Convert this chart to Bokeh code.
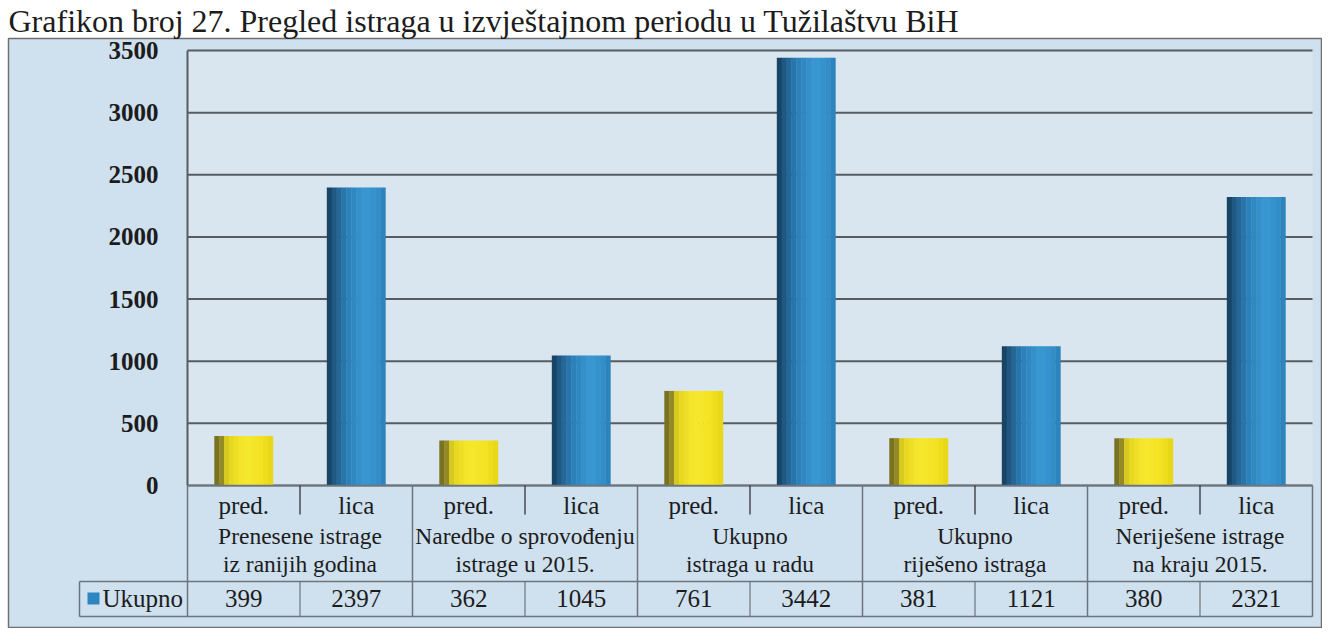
import numpy as np
from bokeh.plotting import figure
from bokeh.models import Range1d, LinearAxis, FixedTicker
from bokeh.core.properties import value
from bokeh.embed import file_html
from bokeh.resources import INLINE

# ---------------- data ----------------
title_text = "Grafikon broj 27. Pregled istraga u izvještajnom periodu u Tužilaštvu BiH"
groups = [
    "Prenesene istrage\niz ranijih godina",
    "Naredbe o sprovođenju\nistrage u 2015.",
    "Ukupno\nistraga u radu",
    "Ukupno\nriješeno istraga",
    "Neriješene istrage\nna kraju 2015.",
]
sub_labels = ["pred.", "lica"]
pred_values = [399, 362, 761, 381, 380]
lica_values = [2397, 1045, 3442, 1121, 2321]
series_name = "Ukupno"
y_ticks = [0, 500, 1000, 1500, 2000, 2500, 3000, 3500]

# ---------------- layout (canvas pixels) ----------------
W, H = 1322, 628
BL, BR, BT, BB = 8, 1, 38, 1          # borders around the chart frame
FX0, FX1 = float(BL), float(W - BR)   # chart frame left / right
FY0, FY1 = float(BT), float(H - BB)   # chart frame top / bottom
PX0, PX1 = 187.0, 1312.0              # plot area left / right
PY_TOP, PY_ZERO = 50.0, 485.0         # y of top tick / zero

n_groups = len(groups)
n_slots = n_groups * len(sub_labels)
xu = (PX1 - PX0) / n_slots
yu = y_ticks[-1] / (PY_ZERO - PY_TOP)


def dx(px):
    return (px - PX0) / xu


def dy(py):
    return (PY_ZERO - py) * yu


SERIF = value("Liberation Serif")
INK = "#1c1c1c"
FRAME_BG = "#cfe0ee"
PLOT_BG = "#dae6ef"
GRID = "#555d63"
TABLE = "#6c767c"

p = figure(width=W, height=H, output_backend="svg", toolbar_location=None,
           x_range=Range1d(dx(FX0), dx(FX1)), y_range=Range1d(dy(FY1), dy(FY0)),
           x_axis_type=None, y_axis_type=None,
           min_border_left=BL, min_border_right=BR,
           min_border_top=BT, min_border_bottom=BB)
p.border_fill_color = "white"
p.background_fill_color = FRAME_BG
p.outline_line_color = "#707070"
p.outline_line_width = 1.5

p.title.text = title_text
p.title.text_font = "Liberation Serif"
p.title.text_font_style = "normal"
p.title.text_font_size = "32px"
p.title.text_color = INK
p.title.standoff = 0
p.title.offset = 0

# plot area
top_val = y_ticks[-1]
p.quad(left=[0], right=[n_slots], bottom=[0], top=[top_val], fill_color=PLOT_BG, line_color=None)

# gridlines
yt = np.array(y_ticks, dtype=float)
p.segment(x0=np.zeros_like(yt), x1=np.full_like(yt, n_slots), y0=yt, y1=yt,
          line_color=GRID, line_width=2)

# y axis at plot area left
yaxis = LinearAxis(ticker=FixedTicker(ticks=y_ticks), fixed_location=0)
yaxis.axis_line_color = None
yaxis.major_tick_line_color = None
yaxis.minor_tick_line_color = None
yaxis.major_tick_out = 0
yaxis.major_tick_in = 0
yaxis.major_label_standoff = 29
yaxis.major_label_text_font = "Liberation Serif"
yaxis.major_label_text_font_style = "bold"
yaxis.major_label_text_font_size = "25px"
yaxis.major_label_text_color = INK
p.add_layout(yaxis, "left")

# bars with cylinder-like shading
pred_x = np.arange(n_groups) * 2 + 0.5
lica_x = pred_x + 1
bar_w = 0.52

yellow_stops = [(0.0, "#6c671f"), (0.13, "#958b26"), (0.22, "#e2d21f"),
                (0.5, "#f7e82c"), (0.8, "#f3e21f"), (1.0, "#e6d417")]
blue_stops = [(0.0, "#153a57"), (0.15, "#215e8a"), (0.35, "#2b7fb8"),
              (0.65, "#3a98d2"), (0.85, "#3390cb"), (1.0, "#2b80b8")]


def interp(stops, t):
    for (t0, c0), (t1, c1) in zip(stops[:-1], stops[1:]):
        if t0 <= t <= t1:
            f = (t - t0) / (t1 - t0)
            a = [int(c0[i:i + 2], 16) for i in (1, 3, 5)]
            b = [int(c1[i:i + 2], 16) for i in (1, 3, 5)]
            return "#%02x%02x%02x" % tuple(round(a[k] + (b[k] - a[k]) * f) for k in range(3))
    return stops[-1][1]


def shaded_bars(xs, vals, stops, nsl=12):
    xs = np.asarray(xs, dtype=float)
    for k in range(nsl):
        t = (k + 0.5) / nsl
        off = -bar_w / 2 + (k + 0.5) * bar_w / nsl
        p.vbar(x=xs + off, top=vals, bottom=0, width=bar_w / nsl * 1.08,
               fill_color=interp(stops, t), line_color=None)


shaded_bars(pred_x, pred_values, yellow_stops)
shaded_bars(lica_x, lica_values, blue_stops)

# ---------------- data table ----------------
y_tab_top = 0.0
y_sub = dy(505)
y_sub_div = dy(514)
y_grp = dy(549.5)
y_sep = dy(581)
y_val = dy(598)
y_bot = dy(616)
x_leg = dx(79)

# horizontal lines
p.segment(x0=[0, x_leg, x_leg], x1=[n_slots] * 3, y0=[y_tab_top, y_sep, y_bot],
          y1=[y_tab_top, y_sep, y_bot], line_color=TABLE, line_width=1.5)
# plot-area left border and group borders
gb = np.arange(0, n_slots + 1, 2, dtype=float)
p.segment(x0=[0], x1=[0], y0=[top_val], y1=[y_tab_top], line_color=GRID, line_width=2)
p.segment(x0=gb, x1=gb, y0=np.full_like(gb, y_tab_top), y1=np.full_like(gb, y_bot),
          line_color=TABLE, line_width=1.5)
p.segment(x0=[x_leg], x1=[x_leg], y0=[y_sep], y1=[y_bot], line_color=TABLE, line_width=1.5)
# dividers between pred./lica
mid = np.arange(1, n_slots, 2, dtype=float)
p.segment(x0=mid, x1=mid, y0=np.full_like(mid, y_tab_top), y1=np.full_like(mid, y_sub_div),
          line_color="#333333", line_width=1.3)
p.segment(x0=mid, x1=mid, y0=np.full_like(mid, y_sep), y1=np.full_like(mid, y_bot),
          line_color=TABLE, line_width=1.2)

slot_x = np.arange(n_slots) + 0.5
slot_sub = [sub_labels[i % 2] for i in range(n_slots)]
slot_vals = [str(v) for pair in zip(pred_values, lica_values) for v in pair]

p.text(x=slot_x, y=np.full(n_slots, y_sub), text=slot_sub, text_font=SERIF,
       text_font_size="25px", text_color=INK, text_align="center", text_baseline="middle")
p.text(x=np.arange(n_groups) * 2 + 1.0, y=np.full(n_groups, y_grp), text=groups,
       text_font=SERIF, text_font_size="23.5px", text_color=INK, text_align="center",
       text_baseline="middle", text_line_height=1.07)
p.text(x=slot_x, y=np.full(n_slots, y_val), text=slot_vals, text_font=SERIF,
       text_font_size="25px", text_color=INK, text_align="center", text_baseline="middle")

# legend key inside table
p.scatter(x=[dx(93)], y=[y_val], marker="square", size=12, fill_color="#2e86c1",
          line_color=None)
p.text(x=[dx(102)], y=[y_val], text=[series_name], text_font=SERIF, text_font_size="25px",
       text_color=INK, text_align="left", text_baseline="middle")

open("out.html", "w").write(file_html(p, INLINE))
